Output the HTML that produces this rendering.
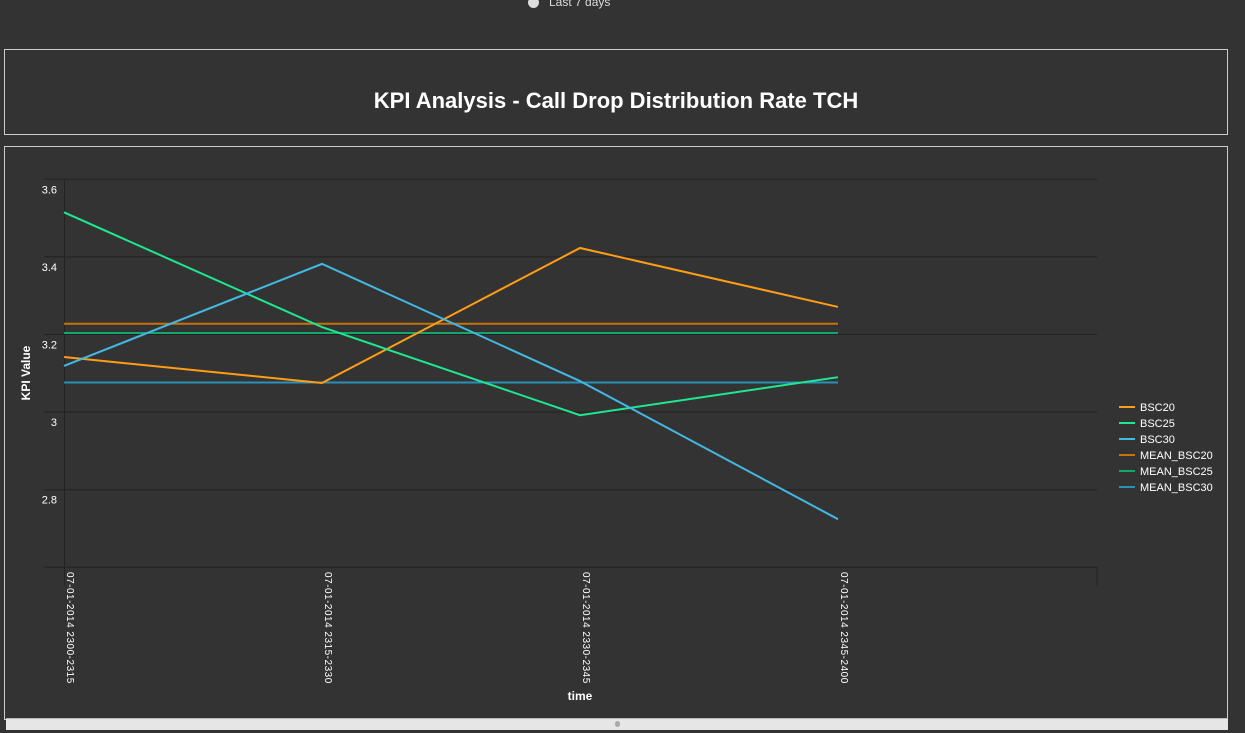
<!DOCTYPE html>
<html><head><meta charset="utf-8"><style>
body{margin:0;width:1245px;height:733px;background:#333;overflow:hidden;font-family:"Liberation Sans",sans-serif;color:#fff;position:relative}
.box{position:absolute;border:1px solid #ccc;box-sizing:border-box}
</style></head><body>
<div style="position:absolute;left:528px;top:-5px;font-size:12px;color:#ddd">
<span style="display:inline-block;width:11px;height:11px;border-radius:50%;background:#ddd;vertical-align:middle;margin-right:10px"></span>Last 7 days</div>
<div class="box" style="left:4px;top:49px;width:1224px;height:86px">
<div style="position:absolute;left:0;right:0;top:38px;text-align:center;font-size:22px;font-weight:bold">KPI Analysis - Call Drop Distribution Rate TCH</div></div>
<div class="box" style="left:4px;top:146px;width:1224px;height:574px"></div>
<div style="position:absolute;left:6px;top:718px;width:1222px;height:11px;background:#e6e6e6;border-top:1px solid #bbb"><div style="position:absolute;left:609px;top:2px;width:5px;height:6px;border-radius:3px;background:#aaa"></div></div>
<svg id="chart" width="1245" height="733" style="position:absolute;left:0;top:0"></svg>
<script>
const categories=["07-01-2014 2300-2315","07-01-2014 2315-2330","07-01-2014 2330-2345","07-01-2014 2345-2400"];
const bsc20=[3.142,3.075,3.423,3.271];
const bsc25=[3.515,3.219,2.992,3.090];
const bsc30=[3.119,3.382,3.080,2.724];
const yTicks=[2.8,3,3.2,3.4,3.6];
const seriesNames=["BSC20","BSC25","BSC30","MEAN_BSC20","MEAN_BSC25","MEAN_BSC30"];
const colors=["#ff9d14","#1ee890","#43b8e3","#c8720a","#12a86c","#2b90b8"];
const mean=a=>a.reduce((s,v)=>s+v,0)/a.length;
const series=[bsc20,bsc25,bsc30,bsc20.map(()=>mean(bsc20)),bsc25.map(()=>mean(bsc25)),bsc30.map(()=>mean(bsc30))];
const svg=document.getElementById('chart');const NS='http://www.w3.org/2000/svg';
const x0=64,x1=1097,step=258,yTop=179.3,yBot=567.3,vMin=2.6,vMax=3.6;
const X=i=>x0+i*step;const Y=v=>yBot-(v-vMin)/(vMax-vMin)*(yBot-yTop);
function mk(t,a,p){const e=document.createElementNS(NS,t);for(const k in a)e.setAttribute(k,a[k]);(p||svg).appendChild(e);return e;}
[2.6,...yTicks].forEach(v=>{const l=mk('line',{x1:x0-20,x2:x1,y1:Y(v),y2:Y(v),stroke:'#222','stroke-width':1});

});
mk('line',{x1:x0+.5,x2:x0+.5,y1:yTop,y2:yBot+18,stroke:'#222'});
mk('line',{x1:x1,x2:x1,y1:yBot,y2:yBot+18,stroke:'#222'});
yTicks.forEach(v=>{const t=mk('text',{x:57,y:Y(v)+14,'text-anchor':'end','font-size':11,fill:'#fff'});t.textContent=String(v);

});
categories.forEach((c,i)=>{const t=mk('text',{transform:`translate(${X(i)+3},572) rotate(90)`,'font-size':10,fill:'#fff','letter-spacing':'0.5'});t.textContent=c;

});
let t=mk('text',{transform:'translate(30,373) rotate(-90)','text-anchor':'middle','font-size':12,'font-weight':'bold',fill:'#fff'});t.textContent='KPI Value';


t=mk('text',{x:580,y:700,'text-anchor':'middle','font-size':12,'font-weight':'bold',fill:'#fff'});t.textContent='time';


[3,4,5,0,1,2].forEach(s=>{const p=mk('polyline',{points:series[s].map((v,i)=>X(i)+','+Y(v)).join(' '),fill:'none',stroke:colors[s],'stroke-width':2});

});
seriesNames.forEach((n,s)=>{const g=mk('g',{});


const y=407+s*16;mk('line',{x1:1119,x2:1135,y1:y,y2:y,stroke:colors[s],'stroke-width':2},g);
const tt=mk('text',{x:1140,y:y+4,'font-size':11,fill:'#fff'},g);tt.textContent=n;});
</script>
</body></html>
